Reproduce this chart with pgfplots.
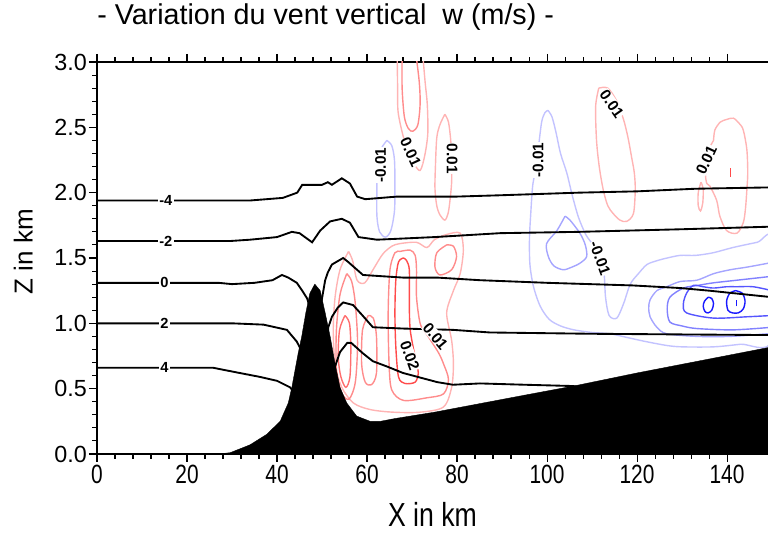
\documentclass[border=0pt]{standalone}
\usepackage{fontspec}
\setmainfont{Liberation Sans}
\usepackage{graphicx}
\usepackage{pgfplots}
\pgfplotsset{compat=1.18}

\definecolor{rpale}{RGB}{255,180,180}
\definecolor{rmed}{RGB}{255,140,140}
\definecolor{rmid}{RGB}{255,110,110}
\definecolor{rdark}{RGB}{255,75,75}
\definecolor{bpale}{RGB}{195,195,255}
\definecolor{bmed}{RGB}{165,165,255}
\definecolor{bmid}{RGB}{130,130,255}
\definecolor{bdark}{RGB}{85,85,255}
\definecolor{bdeep}{RGB}{25,25,255}

\tikzset{
  blbl/.style={fill=white, inner sep=1pt, font=\fontsize{11}{12}\selectfont\bfseries},
  clbl/.style={fill=white, inner sep=0.3pt, font=\fontsize{11.5}{12}\selectfont\bfseries},
  cont/.style={line width=1.05pt, smooth, tension=0.5},
}

\begin{document}
\begin{tikzpicture}
\begin{axis}[
  scale only axis, width=503.25pt, height=294pt,
  xmin=0, xmax=149.1, ymin=0, ymax=3,
  axis x line*=box, axis y line*=left,
  axis line style={line width=0.9pt},
  tick align=outside, ytick pos=left,
  xtick={0,20,...,140}, minor x tick num=4,
  ytick={0,0.5,...,3}, minor y tick num=4,
  major tick length=6pt, minor tick length=3.5pt,
  every tick/.style={black, line width=0.8pt},
  /pgf/number format/assume math mode=true,
  yticklabel style={/pgf/number format/.cd, fixed, fixed zerofill, precision=1, /tikz/.cd,
    font=\fontsize{17.5}{19}\selectfont, inner sep=1.5pt},
  xticklabel={\scalebox{0.95}[1.2]{\pgfmathprintnumber{\tick}}},
  xticklabel style={font=\fontsize{16.5}{18}\selectfont, inner sep=2pt},
  title={- Variation du vent vertical\ \ w (m/s) -},
  title style={at={(axis description cs:0,1.074)}, anchor=base west, inner sep=0pt,
    font=\fontsize{21.5}{25}\selectfont},
  xlabel={\scalebox{1}[1.25]{X in km}},
  xlabel style={at={(axis description cs:0.5,-0.155)}, anchor=center,
    font=\fontsize{20}{22}\selectfont},
  ylabel={Z in km},
  ylabel style={at={(axis description cs:-0.110,0.516)}, anchor=center,
    font=\fontsize{19.5}{22}\selectfont},
]

% ---- positive w (red) ----
\addplot[cont, rpale] coordinates {(66.7,3.05) (66.8,2.80) (66.9,2.62) (67.9,2.45) (69.0,2.33) (70.5,2.22) (71.8,2.17) (72.8,2.28) (73.5,2.45) (73.4,2.67) (72.9,2.85) (72.4,3.05)};
\addplot[cont, rmed] coordinates {(67.8,3.05) (67.8,2.80) (68.3,2.58) (69.2,2.49) (70.2,2.47) (71.3,2.52) (71.8,2.68) (71.6,2.85) (70.9,3.05)};
\addplot[cont, rpale] coordinates {(77.3,2.60) (76.2,2.52) (75.5,2.42) (75.2,2.20) (75.1,2.03) (75.5,1.90) (76.2,1.83) (77.3,1.79) (78.0,1.84) (78.4,1.93) (78.8,2.08) (78.8,2.25) (78.6,2.40) (78.1,2.54) (77.3,2.60)};
\addplot[cont, rpale] coordinates {(111.5,2.80) (110.8,2.66) (111.0,2.40) (111.6,2.20) (112.5,2.02) (113.5,1.90) (114.7,1.84) (116.2,1.79) (117.7,1.78) (119.2,1.84) (119.6,2.02) (119.4,2.15) (118.8,2.27) (118.0,2.42) (117.0,2.56) (115.5,2.70) (113.5,2.80) (111.5,2.80)};
\addplot[cont, rpale] coordinates {(137.0,2.40) (137.3,2.48) (138.5,2.54) (139.9,2.56) (141.4,2.57) (142.7,2.53) (143.6,2.48) (144.4,2.33) (144.6,2.15) (144.4,2.02) (144.1,1.88) (143.6,1.77) (142.2,1.69) (139.9,1.71) (138.4,1.82) (137.7,1.94) (136.2,2.05) (135.5,2.07) (135.2,2.15) (135.6,2.30) (137.0,2.40)};
\addplot[cont, rpale] coordinates {(134.2,2.08) (133.6,2.00) (133.6,1.90) (134.1,1.86) (134.6,1.92) (134.7,2.03) (134.2,2.08)};
\addplot[line width=1pt, rdark] coordinates {(140.7,2.12) (140.7,2.19)};

% lower cluster behind the ridge
\addplot[cont, rpale] coordinates {(55.9,1.55) (56.8,1.48) (57.8,1.33) (59.5,1.31) (61.5,1.42) (63.5,1.53) (65.5,1.59) (67.3,1.61) (71.0,1.62) (73.3,1.58) (75.0,1.64) (77.7,1.68) (80.7,1.69) (81.4,1.56) (80.7,1.38) (79.2,1.25) (77.7,1.08) (78.8,0.87) (79.2,0.69) (78.8,0.51) (77.0,0.36) (71.8,0.32) (65.8,0.32) (60.7,0.34) (57.0,0.39) (54.4,0.51) (52.9,0.69) (52.5,0.95) (52.9,1.20) (54.0,1.41) (55.9,1.55)};
\addplot[cont, rmed] coordinates {(55.5,1.38) (54.0,1.22) (53.2,0.95) (53.2,0.65) (54.3,0.47) (56.0,0.42) (57.4,0.55) (57.9,0.85) (57.4,1.15) (56.6,1.32) (55.5,1.38)};
\addplot[cont, rmid] coordinates {(55.1,1.06) (53.9,0.95) (53.6,0.74) (54.2,0.59) (55.3,0.51) (56.2,0.59) (56.4,0.82) (56.1,1.00) (55.1,1.06)};
\addplot[cont, rmed] coordinates {(60.3,1.06) (59.0,0.95) (58.8,0.69) (59.6,0.55) (61.0,0.53) (62.1,0.62) (62.1,0.90) (61.4,1.04) (60.3,1.06)};
\addplot[cont, rmed] coordinates {(67.3,1.55) (66.2,1.54) (65.1,1.41) (64.7,1.08) (64.9,0.69) (65.5,0.49) (68.1,0.41) (73.3,0.43) (77.0,0.46) (78.1,0.57) (77.0,0.69) (75.8,0.78) (73.0,0.93) (71.8,1.00) (71.0,1.20) (71.0,1.41) (70.7,1.52) (69.6,1.56) (67.3,1.55)};
\addplot[cont, rmed] coordinates {(77.7,1.60) (75.5,1.54) (75.1,1.43) (76.2,1.37) (78.8,1.41) (79.9,1.51) (79.2,1.59) (77.7,1.60)};
\addplot[cont, rdark] coordinates {(68.1,1.50) (67.0,1.47) (66.4,1.33) (66.2,1.08) (66.4,0.82) (67.0,0.59) (68.4,0.54) (70.7,0.55) (71.4,0.62) (71.0,0.69) (69.6,0.95) (69.4,1.20) (69.4,1.41) (68.8,1.48) (68.1,1.50)};

% ---- negative w (blue) ----
\addplot[cont, bpale] coordinates {(64.4,2.40) (63.2,2.34) (62.3,2.25) (62.2,2.05) (62.2,1.82) (62.8,1.70) (64.1,1.66) (65.3,1.71) (66.1,1.86) (66.2,2.05) (66.1,2.25) (65.5,2.36) (64.4,2.40)};
\addplot[cont, bpale] coordinates {(100.2,2.63) (101.1,2.58) (102.0,2.46) (103.0,2.30) (104.4,2.15) (105.6,1.98) (107.0,1.81) (108.6,1.68) (109.8,1.62) (111.2,1.53) (112.6,1.40) (113.0,1.20) (113.8,1.06) (115.5,1.04) (117.0,1.15) (118.5,1.30) (120.3,1.38) (122.2,1.45) (124.5,1.48) (126.7,1.50) (129.6,1.52) (133.0,1.52) (136.9,1.54) (141.3,1.58) (146.7,1.62) (150,1.64) (150,0.87) (143,0.84) (137,0.82) (130,0.82) (126.7,0.83) (122,0.86) (118,0.89) (114,0.92) (110,0.93) (106,0.95) (103,0.98) (100.5,1.03) (98.5,1.13) (97.0,1.28) (96.2,1.45) (96.1,1.65) (96.4,1.85) (96.8,2.05) (97.3,2.15) (98.1,2.35) (98.8,2.54) (99.5,2.61) (100.2,2.63)};
\addplot[cont, bmed] coordinates {(104.0,1.82) (102.2,1.71) (99.9,1.61) (100.3,1.51) (101.5,1.44) (103.6,1.41) (105.5,1.43) (107.3,1.46) (108.8,1.51) (108.5,1.60) (107.3,1.69) (105.1,1.79) (104.0,1.82)};
\addplot[cont, bmed] coordinates {(150,1.47) (149.1,1.46) (144.4,1.43) (140.7,1.41) (137,1.38) (133.3,1.33) (129.6,1.32) (126.6,1.28) (124.4,1.25) (122.9,1.18) (122.6,1.12) (122.9,1.05) (124.4,0.97) (126.6,0.92) (133.3,0.90) (140.7,0.90) (149.1,0.92) (150,0.92)};
\addplot[cont, bmid] coordinates {(150,1.36) (142.2,1.33) (137,1.31) (133.5,1.29) (130.3,1.27) (127.3,1.20) (126.7,1.11) (127.3,1.01) (130,0.98) (133.3,0.96) (141.4,0.95) (150,0.97)};
\addplot[cont, bdark] coordinates {(150,1.25) (145.8,1.28) (142.2,1.28) (139.9,1.28) (137,1.27) (134.7,1.28) (132.5,1.29) (131,1.23) (130.3,1.15) (131,1.08) (137,1.04) (144.4,1.05) (150,1.06)};
\addplot[cont, bdeep] coordinates {(135.8,1.20) (135.0,1.17) (134.7,1.13) (135.1,1.09) (135.8,1.08) (136.6,1.10) (137.0,1.15) (136.6,1.19) (135.8,1.20)};
\addplot[cont, bdeep] coordinates {(141.9,1.25) (140.6,1.23) (139.9,1.17) (140.2,1.10) (141.2,1.08) (142.5,1.08) (143.6,1.11) (144.0,1.17) (143.4,1.23) (141.9,1.25)};
\addplot[line width=1pt, bdeep] coordinates {(142.1,1.13) (142.1,1.18)};

% ---- black isolines ----
\addplot[black, line width=1.4pt] coordinates {(0,1.94) (28,1.94) (34,1.94) (41.3,1.96) (44.5,2.00) (45.6,2.06) (48,2.06) (50,2.06) (51.3,2.08) (52.2,2.06) (54.4,2.11) (56.2,2.07) (57.8,1.97) (59.6,1.95) (66.7,1.97) (80,1.97) (89.6,1.98) (107,2.00) (120,2.01) (133,2.03) (149.1,2.04) (150,2.04)};
\addplot[black, line width=1.4pt] coordinates {(0,1.63) (29.6,1.63) (34,1.64) (40,1.66) (43.3,1.70) (45,1.69) (47.8,1.62) (49.6,1.71) (51.8,1.78) (54.4,1.80) (56.2,1.77) (58.1,1.66) (62.2,1.64) (75,1.66) (89.6,1.69) (107,1.70) (130,1.72) (150,1.74)};
\addplot[black, line width=1.4pt] coordinates {(0,1.31) (27,1.31) (30,1.30) (35,1.31) (39,1.33) (41.1,1.37) (42.5,1.35) (44.4,1.31) (45.6,1.25) (46.7,1.19) (47.5,1.10) (49.5,1.10) (50.0,1.19) (50.7,1.33) (51.3,1.39) (52.2,1.45) (54.7,1.50) (55.8,1.47) (59.1,1.37) (68,1.35) (75.6,1.35) (85.1,1.33) (100,1.31) (119,1.29) (129.6,1.27) (136,1.25) (150,1.20)};
\addplot[black, line width=1.4pt] coordinates {(0,1.00) (30,1.00) (37,0.99) (42.2,0.95) (44.4,0.86) (45.3,0.80) (46,0.60) (50.5,0.60) (51.4,0.97) (52.2,1.05) (53.5,1.12) (54.7,1.16) (56.9,1.14) (59,1.06) (61.3,0.97) (68,0.96) (79.1,0.95) (87.3,0.93) (110,0.92) (150,0.91)};
\addplot[black, line width=1.4pt] coordinates {(0,0.66) (25.8,0.66) (30.2,0.63) (36.2,0.59) (40,0.56) (42.9,0.51) (43.6,0.48) (45,0.35) (51,0.35) (52.9,0.67) (54,0.78) (55.6,0.85) (56.5,0.85) (59.1,0.77) (61.3,0.71) (64.4,0.67) (68,0.62) (75.6,0.55) (79.1,0.53) (85.1,0.54) (95,0.53) (105.9,0.52) (107,0.51)};

% ---- terrain ----
\addplot[fill=black, draw=black, line width=0.3pt] coordinates {(0,0) (27,0) (29.6,0.01) (34,0.07) (37.7,0.15) (40.7,0.25) (42.5,0.39) (43.3,0.51) (44,0.64) (44.7,0.77) (45.5,0.90) (46.4,1.08) (47.3,1.23) (48.4,1.30) (49.6,1.25) (50.7,1.08) (51.8,0.90) (52.9,0.69) (54,0.51) (55.5,0.39) (57.7,0.29) (60.7,0.25) (63,0.25) (66,0.27) (75,0.32) (85,0.385) (95,0.45) (105.9,0.52) (120,0.62) (135,0.72) (150,0.82) (150,0)} \closedcycle;

% ---- labels ----
\node[blbl] at (axis cs:15.3,1.94) {-4};
\node[blbl] at (axis cs:15.3,1.63) {-2};
\node[blbl] at (axis cs:15,1.31) {0};
\node[blbl] at (axis cs:15,1.00) {2};
\node[blbl] at (axis cs:15,0.66) {4};
\node[clbl, rotate=-65] at (axis cs:69.7,2.31) {0.01};
\node[clbl, rotate=-90] at (axis cs:78.9,2.26) {0.01};
\node[clbl, rotate=90] at (axis cs:63.0,2.21) {-0.01};
\node[clbl, rotate=90] at (axis cs:98.0,2.25) {-0.01};
\node[clbl, rotate=-55] at (axis cs:114.4,2.68) {0.01};
\node[clbl, rotate=65] at (axis cs:135.4,2.25) {0.01};
\node[clbl, rotate=-70] at (axis cs:111.8,1.50) {-0.01};
\node[clbl, rotate=-50] at (axis cs:75.2,0.90) {0.01};
\node[clbl, rotate=-70] at (axis cs:69.5,0.75) {0.02};
\end{axis}
\pgfresetboundingbox
\useasboundingbox (-72.75pt,-60pt) rectangle (503.25pt,340.5pt);
\end{tikzpicture}
\end{document}
